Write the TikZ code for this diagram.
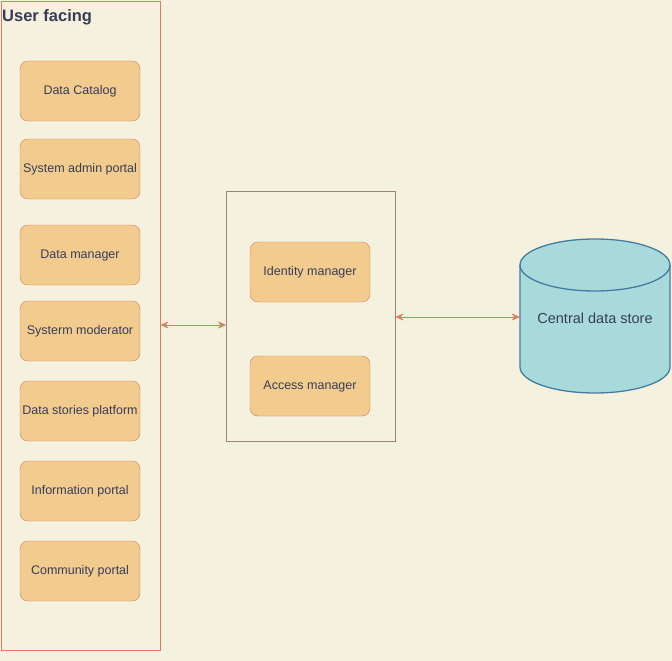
\documentclass[tikz,border=0pt]{standalone}
\usepackage{fontspec}
\setmainfont{Liberation Sans}
\usepackage{xcolor}
\usetikzlibrary{arrows.meta}
\definecolor{paper}{HTML}{F4F1DE}
\definecolor{boxfill}{HTML}{F2CC8F}
\definecolor{boxline}{HTML}{E07A5F}
\definecolor{inkblue}{HTML}{393C56}
\definecolor{storefill}{HTML}{A8DADC}
\definecolor{storeline}{HTML}{457B9D}
\definecolor{groupline}{HTML}{9A8478}

\begin{document}
\begin{tikzpicture}[x=1pt, y=-1pt,
    comp/.style={draw=boxline, fill=boxfill, rounded corners=8pt,
        minimum width=120pt, minimum height=60pt, inner sep=0pt,
        text=inkblue, font=\fontsize{12.5}{14}\selectfont},
    group/.style={draw, inner sep=0pt, anchor=north west},
    link/.style={{Stealth[length=8pt,width=7pt]}-{Stealth[length=8pt,width=7pt]}, boxline}]

    % Background
    \fill[paper] (0, 0) rectangle (672, 661);
    \useasboundingbox (0, 0) rectangle (672, 661);

    % Draw the user facing group
    \node[group, draw=boxline, minimum width=159pt, minimum height=649pt] (userfacing) at (1, 1) {};
    \node[anchor=west, text=inkblue, font=\bfseries\fontsize{16.5}{19}\selectfont, inner sep=0pt] (title) at (2, 17) {User facing};

    % Draw the user facing components
    \node[comp] (catalog) at (80, 91) {Data Catalog};
    \node[comp] (admin) at (80, 169) {System admin portal};
    \node[comp] (datamgr) at (80, 255) {Data manager};
    \node[comp] (moderator) at (80, 331) {Systerm moderator};
    \node[comp] (stories) at (80, 411) {Data stories platform};
    \node[comp] (info) at (80, 491) {Information portal};
    \node[comp] (community) at (80, 571) {Community portal};

    % Draw the identity and access group
    \node[group, draw=groupline, minimum width=169pt, minimum height=250pt] (access) at (226, 191) {};
    \node[comp] (identitymgr) at (310, 272) {Identity manager};
    \node[comp] (accessmgr) at (310, 386) {Access manager};

    % Draw the central data store
    \node[minimum width=150pt, minimum height=154pt, inner sep=0pt] (store) at (595, 316) {};
    \draw[storeline, fill=storefill, line width=1.3pt]
        (520, 265) -- (520, 367) arc[start angle=180, end angle=0, x radius=75, y radius=26]
        -- (670, 265) arc[start angle=0, end angle=-180, x radius=75, y radius=26] -- cycle;
    \draw[storeline, line width=1.3pt]
        (520, 265) arc[start angle=180, end angle=0, x radius=75, y radius=26];
    \node[text=inkblue, font=\fontsize{14.5}{17}\selectfont] at (595, 318) {Central data store};

    % Draw arrows between the groups
    \draw[link] (userfacing.east |- 0, 325) -- (access.west |- 0, 325);
    \draw[link] (access.east |- 0, 317) -- (store.west |- 0, 317);

\end{tikzpicture}
\end{document}
